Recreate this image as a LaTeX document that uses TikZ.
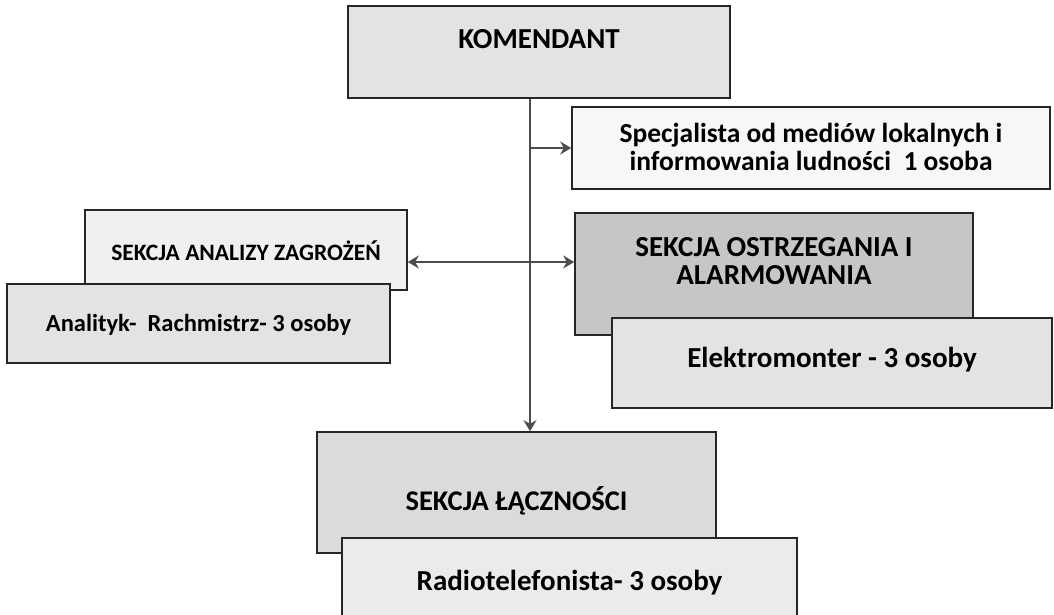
\documentclass[tikz,border=0pt]{standalone}
\usepackage{fontspec}
\setmainfont{Carlito}
\usetikzlibrary{arrows.meta,positioning,calc}

\newcommand{\fsz}[1]{\bfseries\fontsize{#1}{28}\selectfont}

\begin{document}
\begin{tikzpicture}[x=1pt,y=-1pt,>={Stealth[length=11pt,width=13pt]},
  box/.style={draw=black!85,line width=1.6pt,align=center,inner sep=0pt},
  link/.style={draw=black!70,line width=1.6pt}]

  \useasboundingbox (0,0) rectangle (1054,614);
  \clip (0,0) rectangle (1054,614);

  % boxes
  \node[box,fill=gray!22,minimum width=382pt,minimum height=92pt,font=\fsz{29},text height=20pt,text depth=28pt] (kom) at (539,52) {KOMENDANT};
  \node[box,fill=gray!6,minimum width=478pt,minimum height=82pt,font=\fsz{27.5},text height=46pt] (spec) at (811,148) {Specjalista od mediów lokalnych i\\informowania ludności\ \ 1 osoba};
  \node[box,fill=gray!12,minimum width=322pt,minimum height=80pt,font=\fsz{23.5},text height=20pt,text depth=0pt] (anal) at (246,250) {SEKCJA ANALIZY ZAGROŻEŃ};
  \node[box,fill=gray!22,minimum width=383pt,minimum height=79pt,font=\fsz{24.5},text height=18pt,text depth=2pt] (analityk) at (198.5,323.5) {Analityk-\ \ Rachmistrz- 3 osoby};
  \node[box,fill=gray!45,minimum width=398pt,minimum height=122pt,font=\fsz{29},text depth=26pt] (ostrz) at (774,274) {SEKCJA OSTRZEGANIA I\\ALARMOWANIA};
  \node[box,fill=gray!22,minimum width=440pt,minimum height=90pt,font=\fsz{29},text height=20pt,text depth=12pt] (elek) at (832,363) {Elektromonter - 3 osoby};
  \node[box,fill=gray!28,minimum width=399pt,minimum height=121pt,font=\fsz{28.5},text height=36pt,text depth=1pt] (lacz) at (516.5,492.5) {SEKCJA ŁĄCZNOŚCI};
  \node[box,fill=gray!16,minimum width=455pt,minimum height=88pt,font=\fsz{29},text height=20pt,text depth=4pt] (radio) at (569.5,582) {Radiotelefonista- 3 osoby};

  % connectors
  \coordinate (trunk) at ($(kom.south)+(-9,0)$);
  \coordinate (fork) at (trunk |- 0,262);
  \draw[link,->] (trunk) -- (trunk |- lacz.north);
  \draw[link,->] (trunk |- spec.west) -- (spec.west);
  \draw[link,<->] (fork -| anal.east) -- (fork -| ostrz.west);
\end{tikzpicture}
\end{document}
